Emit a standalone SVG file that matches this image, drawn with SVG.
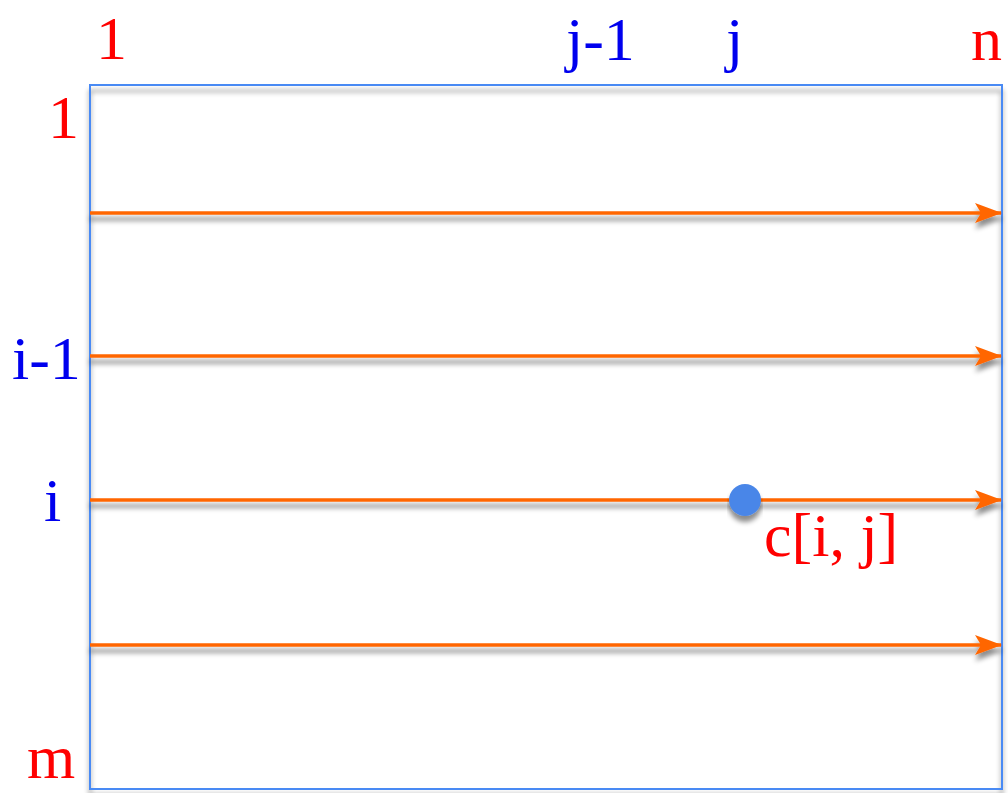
<svg xmlns="http://www.w3.org/2000/svg" width="1008" height="793" viewBox="0 0 1008 793">
  <defs>
    <filter id="shadow" x="-5%" y="-50%" width="110%" height="300%">
      <feGaussianBlur in="SourceAlpha" stdDeviation="2.5"/>
      <feOffset dx="0" dy="6" result="blur"/>
      <feFlood flood-color="#000" flood-opacity="0.45"/>
      <feComposite in2="blur" operator="in" result="sh"/>
      <feMerge><feMergeNode in="sh"/><feMergeNode in="SourceGraphic"/></feMerge>
    </filter>
    <marker id="head" viewBox="0 0 27 20" refX="26" refY="10" markerWidth="27" markerHeight="20" markerUnits="userSpaceOnUse" orient="auto">
      <path d="M0,0 L27,10 L0,20 L6,10 Z" fill="#FF6600"/>
    </marker>
    <style>
      .row { stroke: #FF6600; stroke-width: 3.5; fill: none; }
      .red { fill: #FF0000; }
      .blue { fill: #0000EE; }
      text { font-family: "Liberation Serif", "Times New Roman", serif; font-size: 62px; }
    </style>
  </defs>

  <!-- matrix frame -->
  <g id="matrix">
    <rect x="90" y="85" width="912" height="704" fill="none" stroke="#4A8AF4" stroke-width="2" filter="url(#shadow)"/>
  </g>

  <!-- row sweeps -->
  <g id="connectors" filter="url(#shadow)">
    <line class="row" x1="90" y1="213" x2="1001" y2="213" marker-end="url(#head)"/>
    <line class="row" x1="90" y1="356" x2="1001" y2="356" marker-end="url(#head)"/>
    <line class="row" x1="90" y1="500" x2="1001" y2="500" marker-end="url(#head)"/>
    <line class="row" x1="90" y1="645" x2="1001" y2="645" marker-end="url(#head)"/>
  </g>

  <!-- cell c[i, j] -->
  <g id="cell">
    <circle cx="745" cy="500" r="16" fill="#4A86E8" filter="url(#shadow)"/>
    <text class="red" x="764" y="556">c[i, j]</text>
  </g>

  <!-- column indices -->
  <g id="col-labels">
    <text class="red" x="96" y="59">1</text>
    <text class="blue" x="566" y="60">j-1</text>
    <text class="blue" x="726" y="60">j</text>
    <text class="red" x="971" y="60">n</text>
  </g>

  <!-- row indices -->
  <g id="row-labels">
    <text class="red" x="48" y="138">1</text>
    <text class="blue" x="12" y="379">i-1</text>
    <text class="blue" x="44" y="521">i</text>
    <text class="red" x="27" y="778">m</text>
  </g>
</svg>
